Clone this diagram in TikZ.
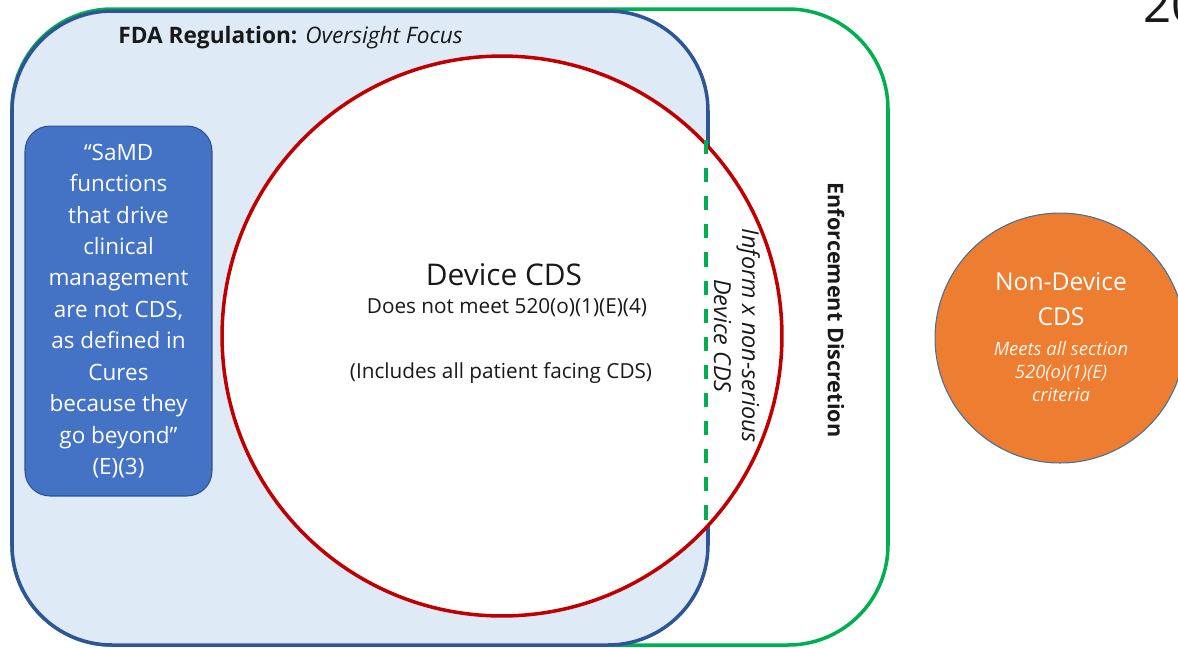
\documentclass[tikz,border=0pt]{standalone}
\usepackage{fontspec}
\setmainfont{Open Sans}
\usepackage{xcolor}
\usepackage{tikz}
\usetikzlibrary{positioning}
\definecolor{fdagreen}{RGB}{0,176,80}
\definecolor{fdablue}{RGB}{47,85,151}
\definecolor{fdafill}{RGB}{222,235,247}
\definecolor{cdsred}{RGB}{192,0,0}
\definecolor{samdblue}{RGB}{68,114,196}
\definecolor{samdedge}{RGB}{47,82,143}
\definecolor{ndorange}{RGB}{237,125,49}
\definecolor{ndedge}{RGB}{65,113,156}
\newcommand{\fsz}[2]{\fontsize{#1}{#2}\selectfont}

\begin{document}
\begin{tikzpicture}[x=0.02cm,y=-0.02cm,
    every node/.style={inner sep=0pt,text=black!90},
    region/.style={line width=2pt,rounded corners=2cm}]
  \useasboundingbox (0,0) rectangle (1178,647);
  % enforcement discretion and FDA oversight areas
  \draw[region,fdagreen] (12,9) rectangle (888,645);
  \draw[region,fdablue,fill=fdafill] (12,11) rectangle (708,645);
  % device CDS
  \draw[cdsred,fill=white,line width=2pt] (502,336) circle[radius=5.6cm];
  \draw[fdagreen,line width=2pt,dash pattern=on 8pt off 8pt] (706,140) -- (706,530);

  \node[anchor=base west,font=\fsz{12.9}{15}] (fdatitle) at (118,43)
    {\textbf{FDA Regulation:} \textit{Oversight Focus}};
  \node[anchor=base,font=\fsz{17}{20}] (devcds) at (504,285) {Device CDS};
  \node[anchor=base,font=\fsz{11.8}{14}] (devmeet) at (507,313) {Does not meet 520(o)(1)(E)(4)};
  \node[anchor=base,font=\fsz{11.8}{14}] (devpatient) at (501,378) {(Includes all patient facing CDS)};

  \node[draw=samdedge,line width=0.6pt,fill=samdblue,rounded corners=0.5cm,
        minimum width=3.74cm,minimum height=7.4cm,align=center,
        text=white,font=\fsz{12.8}{17.9}] (samd) at (118.5,311)
    {“SaMD\\functions\\that drive\\clinical\\management\\are not CDS,\\as defined in\\Cures\\because they\\go beyond”\\(E)(3)};

  \node[rotate=-90,align=center,font=\itshape\fsz{13.3}{16}] (inform) at (737,336)
    {Inform x non-serious\\Device CDS};
  \node[rotate=-90,font=\bfseries\fsz{12.3}{14}] (enforce) at (836,310) {Enforcement Discretion};

  % non-device CDS
  \node[circle,draw=ndedge,line width=0.6pt,fill=ndorange,minimum size=5cm] (nondev) at (1060,338) {};
  \node[anchor=north,align=center,text=white,font=\fsz{14}{20}] (ndtitle) at (1061,272)
    {Non-Device\\CDS};
  \node[anchor=north,align=center,text=orange!8,font=\itshape\fsz{10.5}{13}] (ndmeets) at (1061,341)
    {Meets all section\\520(o)(1)(E)\\criteria};

  \node[anchor=base west,font=\fsz{28}{30}] (pagenum) at (1143,22) {20};
\end{tikzpicture}
\end{document}
